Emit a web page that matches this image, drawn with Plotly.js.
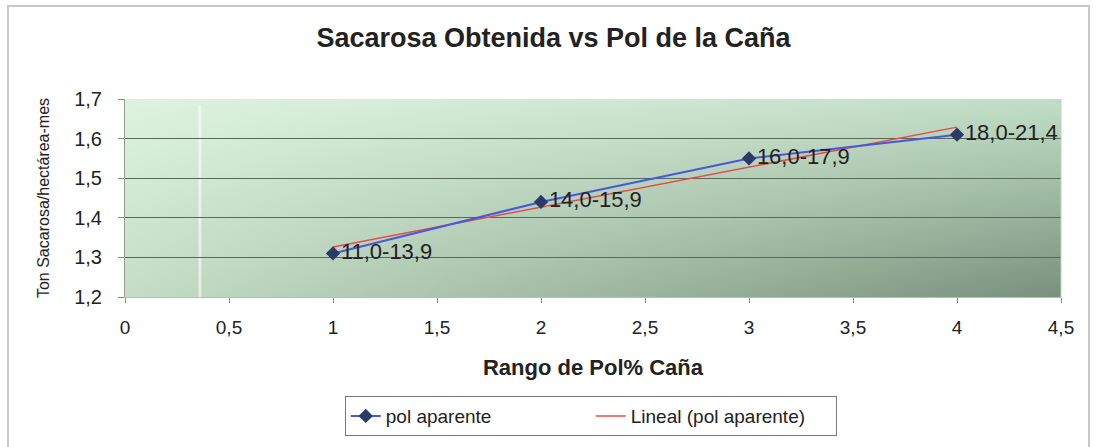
<!DOCTYPE html>
<html>
<head>
<meta charset="utf-8">
<script src="https://cdn.plot.ly/plotly-3.0.1.min.js"></script>
<style>
  html, body { margin: 0; padding: 0; background: #fff; }
  #wrap { position: relative; width: 1096px; height: 447px; overflow: hidden; }
  #chart { width: 1096px; height: 447px; }
  #frame { position: absolute; left: 7px; top: 5px; width: 1083px; height: 460px;
           border: 2px solid #c8c8c8; pointer-events: none; box-sizing: border-box; }
</style>
</head>
<body>
<div id="wrap">
  <div id="chart"></div>
  <div id="frame"></div>
</div>
<script>
// ---- data ----
const xValues = [1, 2, 3, 4];
const yValues = [1.31, 1.44, 1.55, 1.61];
const pointLabels = ["11,0-13,9", "14,0-15,9", "16,0-17,9", "18,0-21,4"];
const seriesName = "pol aparente";
const trendName = "Lineal (pol aparente)";
const xTickVals = [0, 0.5, 1, 1.5, 2, 2.5, 3, 3.5, 4, 4.5];
const yTickVals = [1.2, 1.3, 1.4, 1.5, 1.6, 1.7];

// least-squares trend line from the series
const n = xValues.length;
const mx = xValues.reduce((a, b) => a + b, 0) / n;
const my = yValues.reduce((a, b) => a + b, 0) / n;
let sxy = 0, sxx = 0;
for (let i = 0; i < n; i++) { sxy += (xValues[i] - mx) * (yValues[i] - my); sxx += (xValues[i] - mx) ** 2; }
const slope = sxy / sxx, intercept = my - slope * mx;
const trendX = [xValues[0], xValues[n - 1]];
const trendY = trendX.map(x => intercept + slope * x);

// bilinear gradient background image
const W = 468, H = 99;
const cv = document.createElement('canvas');
cv.width = W; cv.height = H;
const ctx = cv.getContext('2d');
const img = ctx.createImageData(W, H);
const TL = [222, 243, 222], TR = [194, 222, 198], BL = [196, 222, 198], BR = [120, 146, 125];
for (let j = 0; j < H; j++) {
  const v = j / (H - 1);
  for (let i = 0; i < W; i++) {
    const u = i / (W - 1);
    const k = (j * W + i) * 4;
    for (let c = 0; c < 3; c++) {
      img.data[k + c] = Math.round(TL[c] * (1 - u) * (1 - v) + TR[c] * u * (1 - v) + BL[c] * (1 - u) * v + BR[c] * u * v);
    }
    img.data[k + 3] = 255;
  }
}
ctx.putImageData(img, 0, 0);
const bg = cv.toDataURL('image/png');

const font = "Arial, 'Liberation Sans', sans-serif";

const traces = [
  {
    x: trendX, y: trendY, type: 'scatter', mode: 'lines', name: trendName,
    line: { color: '#e0504a', width: 1.5 }, hoverinfo: 'skip', legendrank: 2
  },
  {
    x: xValues, y: yValues, type: 'scatter', mode: 'lines+markers+text', name: seriesName,
    text: pointLabels, textposition: 'middle right',
    textfont: { family: font, size: 22, color: '#222' },
    line: { color: '#4a58d8', width: 2 },
    marker: { symbol: 'diamond', size: 11, color: '#2b3a66' }, legendrank: 1
  }
];

const layout = {
  width: 1096, height: 447,
  margin: { l: 125, r: 35, t: 99, b: 150 },
  paper_bgcolor: 'rgba(0,0,0,0)',
  plot_bgcolor: 'rgba(0,0,0,0)',
  separators: ',.',
  font: { family: font, color: '#222' },
  title: { text: '<b>Sacarosa Obtenida vs Pol de la Caña</b>', x: 0.505, xanchor: 'center', y: 0.915, yanchor: 'middle',
           font: { family: font, size: 27, color: '#222' } },
  xaxis: {
    range: [0, 4.5], tickvals: xTickVals,
    ticks: 'outside', ticklen: 5, tickcolor: '#888', ticklabelstandoff: 8,
    showgrid: false, zeroline: false, showline: true, linecolor: '#bbb', linewidth: 1,
    tickfont: { family: font, size: 19, color: '#222' },
    title: { text: '<b>Rango de Pol% Caña</b>', font: { family: font, size: 22, color: '#222' }, standoff: 22 }
  },
  yaxis: {
    range: [1.2, 1.7], tickvals: yTickVals,
    ticks: 'outside', ticklen: 6, tickcolor: '#888', ticklabelstandoff: 12,
    showgrid: true, gridcolor: '#56695a', gridwidth: 1,
    zeroline: false, showline: true, linecolor: '#999', linewidth: 1,
    tickfont: { family: font, size: 20, color: '#222' },
    title: { text: 'Ton Sacarosa/hectárea-mes', font: { family: font, size: 16, color: '#222' }, standoff: 20 }
  },
  showlegend: true,
  legend: {
    orientation: 'h', x: 0.539, xref: 'container', xanchor: 'center',
    y: 0.114, yref: 'container', yanchor: 'top',
    entrywidth: 200, entrywidthmode: 'pixels',
    bordercolor: '#777', borderwidth: 1, bgcolor: '#fff',
    font: { family: font, size: 19, color: '#222' }, traceorder: 'normal'
  },
  images: [{
    source: bg, xref: 'paper', yref: 'paper', x: 0, y: 1, sizex: 1, sizey: 1,
    xanchor: 'left', yanchor: 'top', sizing: 'stretch', layer: 'below'
  }],
  shapes: [
    { type: 'line', xref: 'x', yref: 'paper', x0: 0.36, x1: 0.36, y0: 0, y1: 0.97,
      line: { color: 'rgba(255,255,255,0.55)', width: 3 }, layer: 'below' },
    { type: 'line', xref: 'paper', yref: 'paper', x0: 1, x1: 1, y0: 0, y1: 1,
      line: { color: '#c0d0c0', width: 1 } }
  ]
};

Plotly.newPlot('chart', traces, layout, { displayModeBar: false, staticPlot: true });
</script>
</body>
</html>
